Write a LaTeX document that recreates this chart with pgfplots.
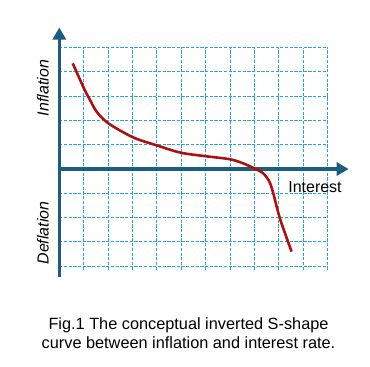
\documentclass[border=0pt]{standalone}
\usepackage{pgfplots}
\pgfplotsset{compat=1.18}
\usepackage{fontspec}
\setmainfont{Liberation Sans}
\usetikzlibrary{arrows.meta}
\definecolor{axisblue}{RGB}{28,94,128}
\definecolor{gridblue}{RGB}{40,165,215}
\definecolor{curvered}{RGB}{170,18,18}
\begin{document}
\begin{tikzpicture}[x=1pt,y=1pt]
\useasboundingbox (-59.3,-97.155) rectangle (310.7,269.845);
\begin{axis}[
  x=24.4pt, y=24.3pt,
  xmin=0, xmax=11, ymin=-4.15, ymax=5,
  axis lines=middle,
  xtick={1,...,11}, ytick={-4,...,5},
  xticklabels={}, yticklabels={},
  major tick length=0pt,
  grid=major,
  grid style={gridblue, dash pattern=on 3.2pt off 1.5pt, line width=1.1pt},
  clip=false,
  every inner x axis line/.append style={axisblue, line width=3.2pt, -{Triangle[length=12pt,width=13pt]}, shorten >=-21pt},
  every inner y axis line/.append style={axisblue, line width=3.2pt, -{Triangle[length=12pt,width=13pt]}, shorten >=-20pt, shorten <=-7pt},
]
\addplot[curvered, line width=2.6pt, smooth, tension=0.5] coordinates {
(0.55,4.35) (1.01,3.32) (1.26,2.84) (1.53,2.36) (2.01,1.88) (3.03,1.30) (4.03,0.96) (4.98,0.67) (5.97,0.53) (7.0,0.40) (7.54,0.23) (7.98,0.03) (8.36,-0.18) (8.61,-0.52) (8.77,-1.0) (9.04,-2.03) (9.52,-3.4)
};
\node[rotate=90, font=\fontsize{16}{18}\selectfont\itshape] at (axis cs:-0.67,3.33) {Inflation};
\node[rotate=90, font=\fontsize{16}{18}\selectfont\itshape] at (axis cs:-0.67,-2.63) {Deflation};
\node[font=\fontsize{16}{18}\selectfont] at (axis cs:10.48,-0.74) {Interest};
\end{axis}
\node[align=center, font=\fontsize{16.3}{18.4}\selectfont] at (129.2,-63.155) {Fig.1 The conceptual inverted S-shape\\curve between inflation and interest rate.};
\end{tikzpicture}
\end{document}
